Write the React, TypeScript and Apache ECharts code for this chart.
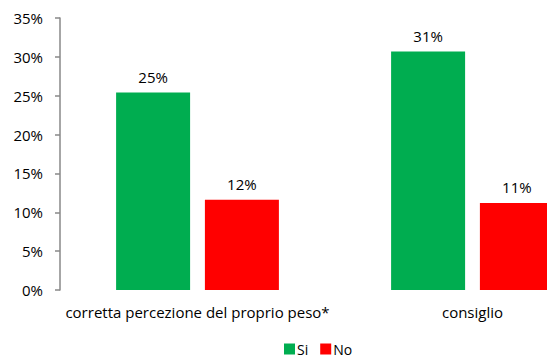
import React, { useEffect, useRef } from "react";
import * as echarts from "echarts";

const categories = ["corretta percezione del proprio peso*", "consiglio"];
const siValues = [25.4, 30.7];
const noValues = [11.6, 11.2];
const siLabels = ["25%", "31%"];
const noLabels = ["12%", "11%"];
const yTicks = [0, 5, 10, 15, 20, 25, 30, 35];

const FONT = "'Open Sans', 'Liberation Sans', Arial, sans-serif";

export default function App() {
  const ref = useRef<HTMLDivElement>(null);
  useEffect(() => {
    if (!ref.current) return;
    const chart = echarts.init(ref.current, undefined, { renderer: "svg" });
    chart.setOption({
      animation: false,
      textStyle: { fontFamily: FONT },
      grid: { left: 60, right: 10, top: 18, bottom: 68, containLabel: false },
      legend: {
        left: 284,
        top: 342,
        padding: 0,
        itemWidth: 11,
        itemHeight: 11,
        itemGap: 12,
        icon: "rect",
        textStyle: { fontFamily: FONT, fontSize: 14, lineHeight: 12, color: "#000", padding: [0, 0, 0, -3] },
        data: ["Si", "No"],
      },
      xAxis: {
        type: "category",
        data: categories,
        axisLine: { show: false },
        axisTick: { show: false },
        axisLabel: { interval: 0, fontFamily: FONT, fontSize: 15, color: "#000", margin: 14 },
      },
      yAxis: {
        type: "value",
        min: yTicks[0],
        max: yTicks[yTicks.length - 1],
        interval: 5,
        splitLine: { show: false },
        axisLine: { show: true, lineStyle: { color: "#888", width: 1.5 } },
        axisTick: { show: true, inside: false, length: 5, lineStyle: { color: "#888", width: 1.5 } },
        axisLabel: { fontFamily: FONT, fontSize: 15, color: "#000", margin: 17, formatter: "{value}%" },
      },
      series: [
        {
          name: "Si",
          type: "bar",
          data: siValues,
          barWidth: 74,
          barGap: "20%",
          itemStyle: { color: "#00AD50" },
          label: {
            show: true,
            position: "top",
            distance: 8,
            fontFamily: FONT,
            fontSize: 15,
            color: "#000",
            formatter: (p: any) => siLabels[p.dataIndex],
          },
        },
        {
          name: "No",
          type: "bar",
          data: noValues,
          barWidth: 74,
          barGap: "20%",
          itemStyle: { color: "#FF0000" },
          label: {
            show: true,
            position: "top",
            distance: 8,
            fontFamily: FONT,
            fontSize: 15,
            color: "#000",
            formatter: (p: any) => noLabels[p.dataIndex],
          },
        },
      ],
    });
    return () => chart.dispose();
  }, []);
  return (
    <div style={{ position: "fixed", left: 0, top: 0, width: 547, height: 358, overflow: "hidden", background: "#fff" }}>
      <div ref={ref} style={{ width: 620, height: 358 }} />
    </div>
  );
}
